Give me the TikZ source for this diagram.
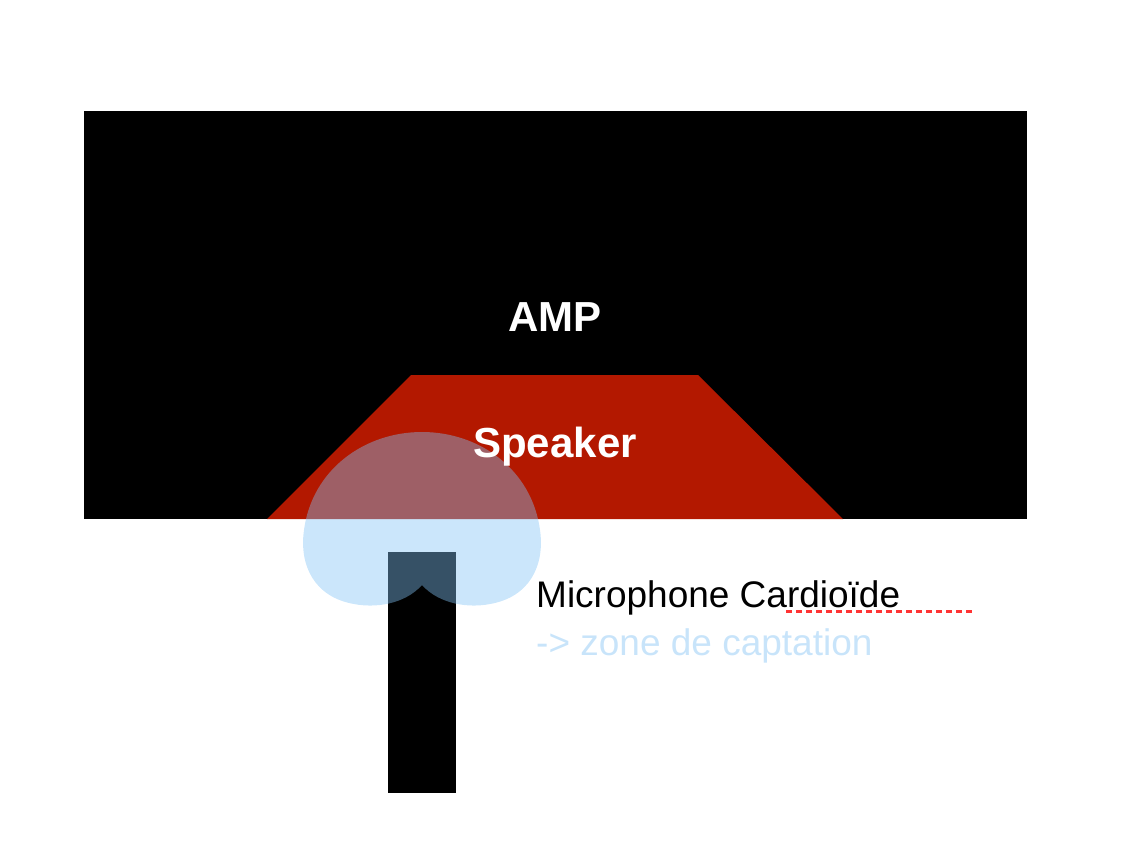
\documentclass[tikz,border=0pt]{standalone}
\usepackage{fontspec}
\setmainfont{Liberation Sans}
\begin{document}
\begin{tikzpicture}[x=1pt,y=-1pt,
  lbl/.style={font=\fontsize{42}{46}\selectfont\bfseries,text=white,inner sep=0pt},
  txt/.style={font=\fontsize{37}{40}\selectfont,inner sep=0pt,anchor=base west}]
\definecolor{spk}{RGB}{179,24,0}
\definecolor{zone}{RGB}{130,195,245}
\definecolor{zonet}{RGB}{200,228,250}
\useasboundingbox (0,0) rectangle (1136,852);
\fill[black] (84,111) rectangle (1027,519);
\fill[spk] (411,375) -- (698,375) -- (843,519) -- (267,519) -- cycle;
\fill[black] (388,552) rectangle (456,793);
\fill[zone,opacity=0.42] (422,585) .. controls (440,605) and (470,608) .. (490,604)
  .. controls (530,597) and (545,565) .. (540,530)
  .. controls (532,470) and (480,432) .. (422,432)
  .. controls (364,432) and (312,470) .. (304,530)
  .. controls (299,565) and (314,597) .. (354,604)
  .. controls (374,608) and (404,605) .. cycle;
\node[lbl] (amp) at (555,317) {AMP};
\node[lbl] (spkr) at (555,447) {Speaker};
\node[txt] (mic) at (536,607) {Microphone Cardioïde};
\node[txt,text=zonet] (zn) at (536,655) {-> zone de captation};
\draw[red!80!white,line width=3pt,dash pattern=on 6pt off 4pt] (786,611) -- (975,611);
\end{tikzpicture}
\end{document}
